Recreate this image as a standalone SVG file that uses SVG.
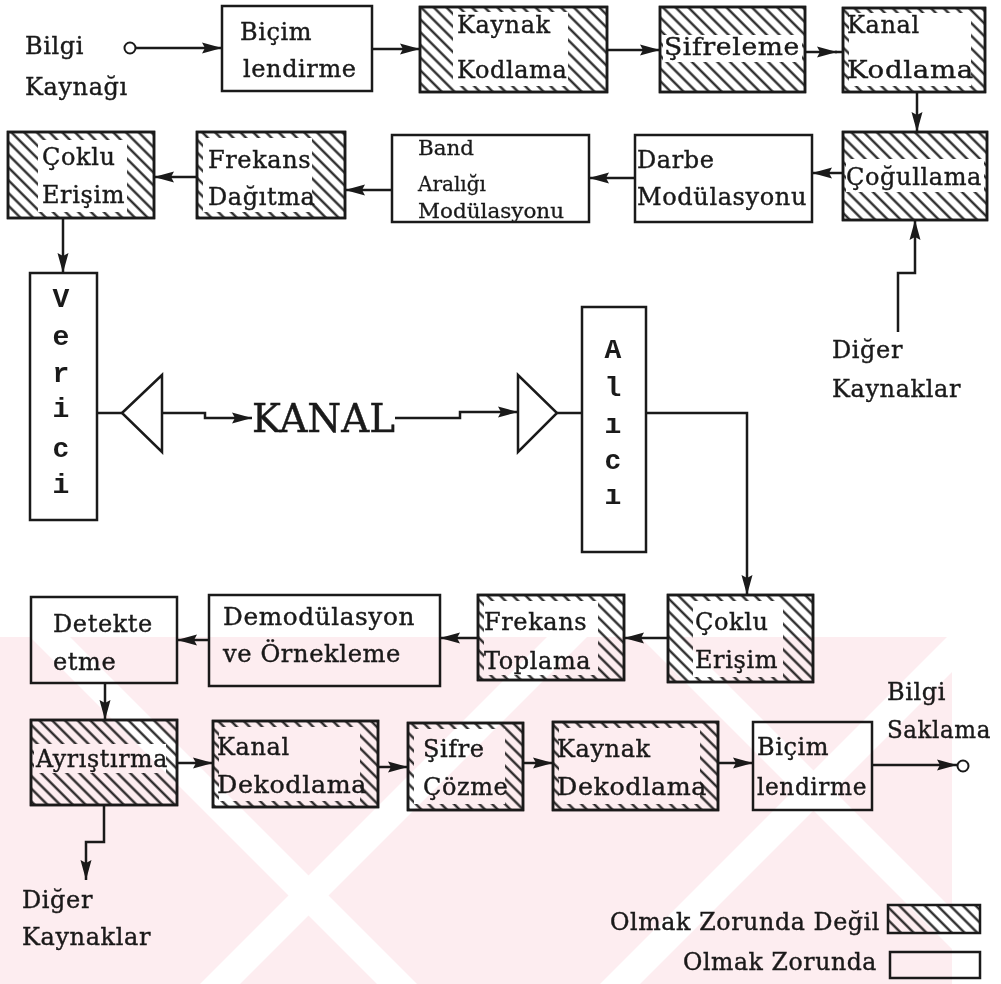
<svg xmlns="http://www.w3.org/2000/svg" width="1001" height="984" viewBox="0 0 1001 984">
<style>
.box{fill:#fff;stroke:#1a1a1a;stroke-width:2.5}
.hb{fill:url(#hatch);stroke:#1a1a1a;stroke-width:2.5}
.fr{fill:none;stroke:#1a1a1a;stroke-width:2.5}
.in{fill:#fff;stroke:none}
.t{font-family:"DejaVu Serif","Liberation Serif",serif;font-size:24px;letter-spacing:0.6px;fill:#1a1a1a;stroke:#1a1a1a;stroke-width:0.4}
.s{font-family:"DejaVu Serif","Liberation Serif",serif;font-size:20px;fill:#1a1a1a;stroke:#1a1a1a;stroke-width:0.3}
.m{font-family:"Liberation Mono","DejaVu Sans Mono",monospace;font-weight:bold;font-size:28px;fill:#1a1a1a;text-anchor:middle}
.k{font-family:"DejaVu Serif","Liberation Serif",serif;font-size:40px;fill:#1a1a1a;stroke:#1a1a1a;stroke-width:0.5}
.c{stroke:#1a1a1a;stroke-width:2.5;fill:none}
.a{marker-end:url(#ah)}
.tri{fill:#fff;stroke:#1a1a1a;stroke-width:2.5}
</style>
<defs>
<pattern id="hatch" patternUnits="userSpaceOnUse" width="9" height="9" patternTransform="rotate(45)">
<rect width="9" height="9" fill="#fff"/>
<line x1="0" y1="4.5" x2="9" y2="4.5" stroke="#1a1a1a" stroke-width="2.2"/>
</pattern>
<marker id="ah" viewBox="0 0 20 12" markerWidth="20" markerHeight="12" markerUnits="userSpaceOnUse" refX="20" refY="6" orient="auto">
<path d="M0,0.5 L20,6 L0,11.5 L3,6 Z" fill="#1a1a1a"/>
</marker>
<mask id="wmask" maskUnits="userSpaceOnUse" x="0" y="0" width="1001" height="984">
<rect x="0" y="637" width="952" height="347" fill="#fff"/>
<polygon points="30,637 70,637 417,984 377,984" fill="#000"/>
<polygon points="200,984 240,984 587,637 547,637" fill="#000"/>
<polygon points="600,984 640,984 987,637 947,637" fill="#000"/>
<polygon points="640,637 680,637 1027,984 987,984" fill="#000"/>
</mask>
</defs>

<g id="connectors">
<circle cx="130" cy="48" r="5.5" fill="#fff" stroke="#1a1a1a" stroke-width="2"/>
<path class="c a" d="M136,48 H222"/>
<path class="c a" d="M372,49 H420"/>
<path class="c a" d="M607,50 H660"/>
<path class="c a" d="M805,52 H837"/>
<path class="c" d="M835,52 H843"/>
<path class="c a" d="M917,92 V132"/>
<path class="c a" d="M843,173 H812"/>
<path class="c a" d="M635,178 H589"/>
<path class="c a" d="M392,190 H345"/>
<path class="c a" d="M197,177 H154"/>
<path class="c a" d="M63,218 V273"/>
<path class="c a" d="M898,332 V273 H915 V220"/>
<path class="c" d="M97,413 H122"/>
<path class="c a" d="M162,413 H205 V418 H252"/>
<path class="c a" d="M395,418 H460 V412 H518"/>
<path class="c" d="M557,413 H582"/>
<path class="c a" d="M646,413 H747 V595"/>
<path class="c a" d="M668,638 H624"/>
<path class="c a" d="M478,638 H440"/>
<path class="c a" d="M209,640 H177"/>
<path class="c a" d="M105,683 V720"/>
<path class="c a" d="M177,763 H213"/>
<path class="c a" d="M378,767 H408"/>
<path class="c a" d="M523,763 H553"/>
<path class="c a" d="M718,763 H753"/>
<path class="c a" d="M872,765 H957"/>
<circle cx="963" cy="766" r="5.5" fill="#fff" stroke="#1a1a1a" stroke-width="2"/>
<path class="c a" d="M104,805 V842 H86 V880"/>
</g>

<g id="bilgi-kaynagi"><text class="t" x="25" y="54">Bilgi</text><text class="t" x="25" y="95">Kaynağı</text></g>

<g id="bicim1"><rect class="box" x="222" y="6" width="150" height="85"/>
<text class="t" x="240" y="40">Biçim</text><text class="t" x="243" y="77">lendirme</text></g>

<g id="kaynak-kodlama"><rect class="hb" x="420" y="7" width="187" height="85"/><rect class="in" x="453" y="12" width="115" height="74"/><rect class="fr" x="420" y="7" width="187" height="85"/>
<text class="t" x="457" y="33">Kaynak</text><text class="t" x="457" y="78">Kodlama</text></g>

<g id="sifreleme"><rect class="hb" x="660" y="7" width="145" height="85"/><rect class="in" x="663" y="35" width="139" height="27"/><rect class="fr" x="660" y="7" width="145" height="85"/>
<text class="t" x="664" y="55" textLength="136" lengthAdjust="spacingAndGlyphs">Şifreleme</text></g>

<g id="kanal-kodlama"><rect class="hb" x="843" y="8" width="142" height="84"/><rect class="in" x="849" y="13" width="122" height="73"/><rect class="fr" x="843" y="8" width="142" height="84"/>
<text class="t" x="847" y="33">Kanal</text><text class="t" x="847" y="78" textLength="127" lengthAdjust="spacingAndGlyphs">Kodlama</text></g>

<g id="cogullama"><rect class="hb" x="843" y="132" width="144" height="88"/><rect class="in" x="846" y="159" width="138" height="33"/><rect class="fr" x="843" y="132" width="144" height="88"/>
<text class="t" x="846" y="185" textLength="136" lengthAdjust="spacingAndGlyphs">Çoğullama</text></g>

<g id="diger1"><text class="t" x="832" y="358">Diğer</text><text class="t" x="832" y="397">Kaynaklar</text></g>

<g id="darbe"><rect class="box" x="635" y="135" width="177" height="87"/>
<text class="t" x="637" y="168">Darbe</text><text class="t" x="637" y="205" textLength="170" lengthAdjust="spacingAndGlyphs">Modülasyonu</text></g>

<g id="band"><rect class="box" x="392" y="135" width="197" height="87"/>
<text class="s" x="418" y="155" textLength="56" lengthAdjust="spacingAndGlyphs">Band</text>
<text class="s" x="418" y="191" textLength="68" lengthAdjust="spacingAndGlyphs">Aralığı</text>
<text class="s" x="418" y="218" textLength="146" lengthAdjust="spacingAndGlyphs">Modülasyonu</text></g>

<g id="frekans-dagitma"><rect class="hb" x="197" y="132" width="148" height="86"/><rect class="in" x="203" y="138" width="109" height="74"/><rect class="fr" x="197" y="132" width="148" height="86"/>
<text class="t" x="208" y="168">Frekans</text><text class="t" x="208" y="205">Dağıtma</text></g>

<g id="coklu1"><rect class="hb" x="8" y="132" width="146" height="86"/><rect class="in" x="38" y="140" width="89" height="72"/><rect class="fr" x="8" y="132" width="146" height="86"/>
<text class="t" x="42" y="165">Çoklu</text><text class="t" x="42" y="203">Erişim</text></g>

<g id="verici"><rect class="box" x="30" y="273" width="67" height="247"/>
<text class="m" x="61" y="307">V</text><text class="m" x="61" y="345">e</text><text class="m" x="61" y="382">r</text><text class="m" x="61" y="417">i</text><text class="m" x="61" y="457">c</text><text class="m" x="61" y="493">i</text></g>

<g id="anten-verici"><polygon class="tri" points="122,413 162,375 162,452"/></g>
<g id="kanal"><text class="k" x="252" y="432" textLength="143" lengthAdjust="spacingAndGlyphs">KANAL</text></g>
<g id="anten-alici"><polygon class="tri" points="518,375 518,452 557,413"/></g>

<g id="alici"><rect class="box" x="582" y="307" width="64" height="245"/>
<text class="m" x="613" y="358">A</text><text class="m" x="613" y="396">l</text><text class="m" x="613" y="433">ı</text><text class="m" x="613" y="469">c</text><text class="m" x="613" y="504">ı</text></g>

<g id="coklu2"><rect class="hb" x="668" y="595" width="145" height="87"/><rect class="in" x="693" y="601" width="90" height="76"/><rect class="fr" x="668" y="595" width="145" height="87"/>
<text class="t" x="695" y="630">Çoklu</text><text class="t" x="695" y="668">Erişim</text></g>

<g id="frekans-toplama"><rect class="hb" x="478" y="595" width="146" height="85"/><rect class="in" x="484" y="601" width="114" height="74"/><rect class="fr" x="478" y="595" width="146" height="85"/>
<text class="t" x="484" y="630">Frekans</text><text class="t" x="484" y="669">Toplama</text></g>

<g id="demodulasyon"><rect class="box" x="209" y="595" width="231" height="91"/>
<text class="t" x="223" y="625" textLength="192" lengthAdjust="spacingAndGlyphs">Demodülasyon</text><text class="t" x="223" y="662" textLength="178" lengthAdjust="spacingAndGlyphs">ve Örnekleme</text></g>

<g id="detekte"><rect class="box" x="31" y="597" width="146" height="86"/>
<text class="t" x="53" y="632">Detekte</text><text class="t" x="53" y="670">etme</text></g>

<g id="ayristirma"><rect class="hb" x="31" y="720" width="146" height="85"/><rect class="in" x="34" y="744" width="132" height="29"/><rect class="fr" x="31" y="720" width="146" height="85"/>
<text class="t" x="36" y="767" textLength="132" lengthAdjust="spacingAndGlyphs">Ayrıştırma</text></g>

<g id="kanal-dekodlama"><rect class="hb" x="213" y="721" width="165" height="86"/><rect class="in" x="219" y="727" width="141" height="74"/><rect class="fr" x="213" y="721" width="165" height="86"/>
<text class="t" x="217" y="755">Kanal</text><text class="t" x="217" y="793" textLength="150" lengthAdjust="spacingAndGlyphs">Dekodlama</text></g>

<g id="sifre-cozme"><rect class="hb" x="408" y="723" width="115" height="87"/><rect class="in" x="414" y="729" width="91" height="75"/><rect class="fr" x="408" y="723" width="115" height="87"/>
<text class="t" x="423" y="757">Şifre</text><text class="t" x="423" y="795">Çözme</text></g>

<g id="kaynak-dekodlama"><rect class="hb" x="553" y="722" width="165" height="88"/><rect class="in" x="559" y="728" width="141" height="76"/><rect class="fr" x="553" y="722" width="165" height="88"/>
<text class="t" x="557" y="757">Kaynak</text><text class="t" x="557" y="795" textLength="150" lengthAdjust="spacingAndGlyphs">Dekodlama</text></g>

<g id="bicim2"><rect class="box" x="753" y="722" width="119" height="88"/>
<text class="t" x="757" y="755">Biçim</text><text class="t" x="757" y="795" textLength="110" lengthAdjust="spacingAndGlyphs">lendirme</text></g>

<g id="bilgi-saklama"><text class="t" x="887" y="700">Bilgi</text><text class="t" x="887" y="738" textLength="104" lengthAdjust="spacingAndGlyphs">Saklama</text></g>

<g id="diger2"><text class="t" x="22" y="908">Diğer</text><text class="t" x="22" y="945">Kaynaklar</text></g>

<g id="legend">
<text class="t" x="610" y="930" textLength="270" lengthAdjust="spacingAndGlyphs">Olmak Zorunda Değil</text>
<rect class="hb" x="888" y="905" width="92" height="28"/>
<text class="t" x="683" y="970" textLength="194" lengthAdjust="spacingAndGlyphs">Olmak Zorunda</text>
<rect class="box" x="890" y="952" width="90" height="26"/>
</g>

<g id="watermark" style="mix-blend-mode:multiply">
<rect x="0" y="637" width="952" height="347" fill="#fdedf0" mask="url(#wmask)"/>
</g>
</svg>
